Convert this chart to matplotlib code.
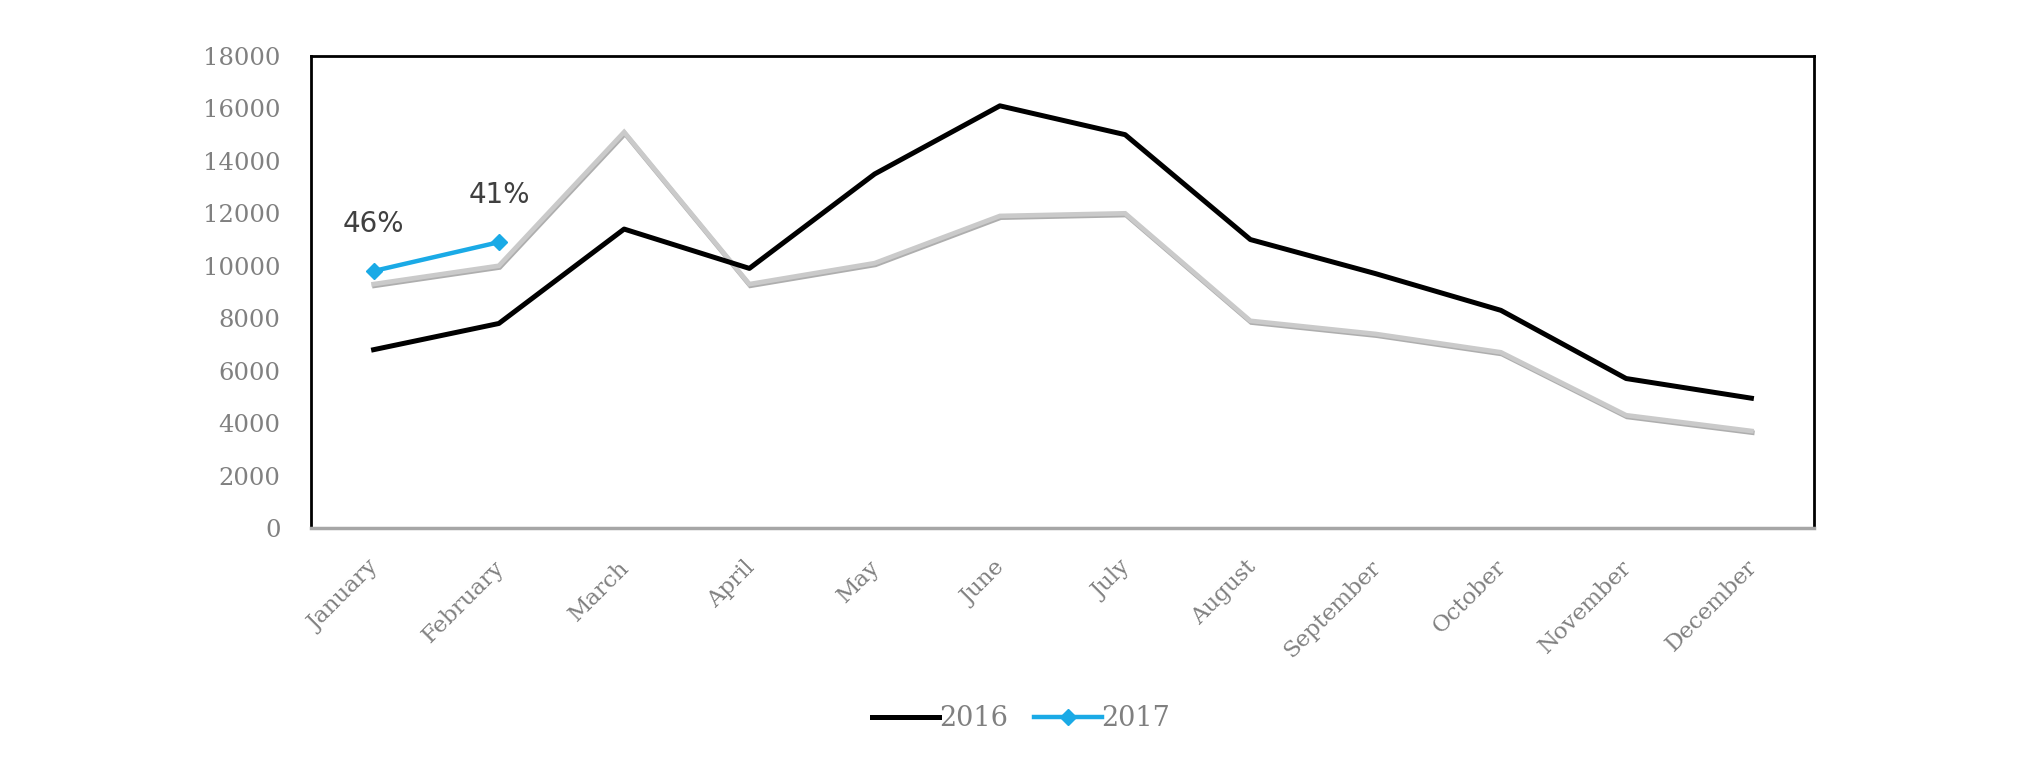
import matplotlib
matplotlib.use("Agg")
import matplotlib.pyplot as plt
import matplotlib.patheffects as pe
from matplotlib.transforms import ScaledTranslation
import numpy as np

# data
months = ["January", "February", "March", "April", "May", "June",
          "July", "August", "September", "October", "November", "December"]
s2016 = [6800, 7800, 11400, 9900, 13500, 16100, 15000, 11000, 9700, 8300, 5700, 4950]
s_grey = [9300, 10000, 15100, 9300, 10100, 11900, 12000, 7900, 7400, 6700, 4300, 3700]
s2017 = [9800, 10900]
labels2017 = ["46%", "41%"]

serif = "DejaVu Serif"

fig = plt.figure(figsize=(20.38, 7.63), dpi=100)
ax = fig.add_axes([0.1526, 0.308, 0.7375, 0.6186])

x = np.arange(len(months))

ax.plot(x, s_grey, color="#cacaca", lw=3.4, solid_joinstyle="miter",
        path_effects=[pe.SimpleLineShadow(offset=(0.6, -1.2), shadow_color="#8c8c8c", alpha=0.7),
                      pe.Normal()])
ax.plot(x, s2016, color="black", lw=3.6, label="2016")
ax.plot(x[:len(s2017)], s2017, color="#1aaae6", lw=3.2, marker="D", ms=8,
        label="2017")

for xi, v, t in zip(x, s2017, labels2017):
    ax.annotate(t, (xi, v), xytext=(0, 34), textcoords="offset points",
                ha="center", va="center", fontsize=20, color="#404040",
                family="DejaVu Sans")

ax.set_xlim(-0.5, len(months) - 0.5)
ax.set_ylim(0, 18000)
ax.set_yticks(np.arange(0, 18001, 2000))
ax.set_xticks(x)
ax.set_xticklabels(months)

for s in ["left", "top", "right"]:
    ax.spines[s].set_linewidth(2)
    ax.spines[s].set_color("black")
ax.spines["bottom"].set_linewidth(2.5)
ax.spines["bottom"].set_color("#a6a6a6")

ax.tick_params(axis="both", length=0)
ax.tick_params(axis="y", pad=22, labelsize=17.5, labelcolor="#808080")
ax.tick_params(axis="x", pad=26, labelsize=16.5, labelcolor="#808080")
for lab in ax.get_yticklabels():
    lab.set_family(serif)
off = ScaledTranslation(2 / 100, 0, fig.dpi_scale_trans)
for lab in ax.get_xticklabels():
    lab.set_family(serif)
    lab.set_rotation(45)
    lab.set_ha("right")
    lab.set_va("center")
    lab.set_rotation_mode("anchor")
    lab.set_transform(lab.get_transform() + off)

leg = fig.legend(loc="center", bbox_to_anchor=(0.501, 0.058), ncol=2,
                 frameon=False, handlelength=2.5, handletextpad=0.0,
                 columnspacing=0.95, prop={"family": serif, "size": 19.5})
for t in leg.get_texts():
    t.set_color("#808080")

fig.savefig("out.png", dpi=100)
